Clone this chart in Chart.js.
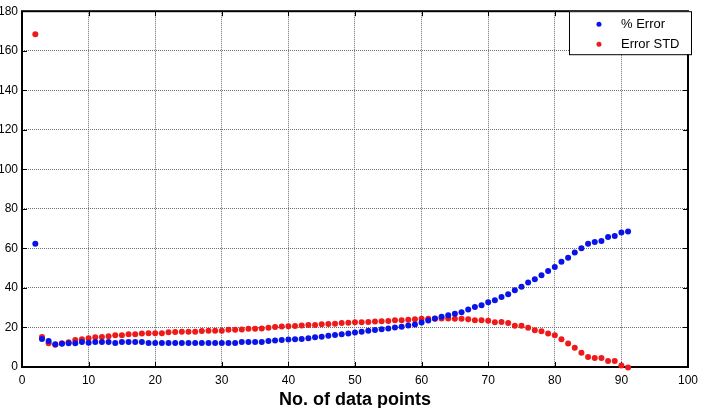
<!DOCTYPE html>
<html>
<head>
<meta charset="utf-8">
<script src="https://cdn.jsdelivr.net/npm/chart.js@4.4.0/dist/chart.umd.min.js"></script>
<style>
  html, body { margin: 0; padding: 0; background: #fff; }
</style>
</head>
<body>
<canvas id="errorChart" width="704" height="408"></canvas>
<script>
// number of data points used (x)
const dataPoints = [
     2,  3,  4,  5,  6,  7,  8,  9, 10, 11, 12, 13, 14, 15, 16, 17, 18, 19, 20, 21,
    22, 23, 24, 25, 26, 27, 28, 29, 30, 31, 32, 33, 34, 35, 36, 37, 38, 39, 40, 41,
    42, 43, 44, 45, 46, 47, 48, 49, 50, 51, 52, 53, 54, 55, 56, 57, 58, 59, 60, 61,
    62, 63, 64, 65, 66, 67, 68, 69, 70, 71, 72, 73, 74, 75, 76, 77, 78, 79, 80, 81,
    82, 83, 84, 85, 86, 87, 88, 89, 90, 91
];

const percentError = [
    62.4, 14.2, 13.2, 11.5, 11.8, 12.0, 12.0, 12.6, 12.3, 12.6, 12.6, 12.6, 12.1, 12.6, 12.6, 12.6, 12.6, 12.1, 12.1, 12.1,
    12.1, 12.1, 12.1, 12.1, 12.1, 12.1, 12.1, 12.1, 12.1, 12.1, 12.1, 12.6, 12.6, 12.6, 12.6, 13.1, 13.4, 13.6, 13.9, 14.1,
    14.2, 14.6, 15.0, 15.3, 15.8, 16.2, 16.6, 17.0, 17.4, 17.8, 18.3, 18.7, 19.1, 19.5, 20.0, 20.4, 21.0, 21.5, 22.5, 23.5,
    24.5, 25.4, 26.2, 27.0, 27.7, 29.1, 30.4, 31.2, 32.8, 33.8, 35.4, 36.8, 38.8, 40.6, 42.7, 44.4, 46.4, 48.6, 50.6, 53.2,
    55.3, 57.9, 60.1, 62.3, 63.3, 63.8, 65.8, 66.3, 68.0, 68.5
];

const errorStd = [
    168.3, 15.2, 12.0, 11.2, 12.0, 12.5, 13.6, 14.1, 14.6, 15.1, 15.2, 15.5, 16.0, 16.1, 16.6, 16.6, 17.0, 17.1, 17.1, 17.1,
    17.6, 17.7, 17.8, 17.8, 17.8, 18.2, 18.3, 18.4, 18.4, 18.8, 18.9, 19.0, 19.3, 19.4, 19.5, 19.9, 20.2, 20.5, 20.6, 20.7,
    21.0, 21.2, 21.3, 21.6, 21.8, 21.9, 22.2, 22.4, 22.6, 22.7, 22.8, 23.0, 23.2, 23.3, 23.6, 23.7, 23.9, 24.2, 24.4, 24.4,
    24.4, 24.5, 24.5, 24.4, 24.4, 24.2, 23.7, 23.6, 23.4, 22.7, 22.8, 22.3, 20.9, 20.9, 19.9, 18.6, 18.1, 17.0, 16.0, 14.0,
    11.9, 9.7, 7.2, 5.0, 4.5, 4.5, 3.0, 3.0, 0.8, -0.2
];

const seriesNames = ['% Error', 'Error STD'];
const BLUE = '#0a14e6';
const RED = '#ee1a1a';
const FONT = "'Liberation Sans', Arial, sans-serif";

const toPoints = (ys) => ys.map((y, i) => ({ x: dataPoints[i], y: y }));

// black box round the plot with little inward tick marks
const framePlugin = {
    id: 'frame',
    beforeDatasetsDraw(chart) {
        const { ctx, chartArea: a, scales } = chart;
        ctx.save();
        ctx.strokeStyle = '#000';
        ctx.lineWidth = 1;
        ctx.beginPath();
        scales.x.ticks.forEach(t => {
            const px = Math.round(scales.x.getPixelForValue(t.value)) + 0.5;
            ctx.moveTo(px, a.top); ctx.lineTo(px, a.top + 5);
            ctx.moveTo(px, a.bottom); ctx.lineTo(px, a.bottom - 5);
        });
        scales.y.ticks.forEach(t => {
            const py = Math.round(scales.y.getPixelForValue(t.value)) + 0.5;
            ctx.moveTo(a.left, py); ctx.lineTo(a.left + 5, py);
            ctx.moveTo(a.right, py); ctx.lineTo(a.right - 5, py);
        });
        ctx.stroke();
        ctx.lineWidth = 2;
        ctx.strokeRect(a.left, a.top, a.right - a.left, a.bottom - a.top);
        ctx.restore();
    }
};

// boxed legend in the top right corner
const boxLegend = {
    id: 'boxLegend',
    afterDraw(chart) {
        const { ctx, chartArea: a } = chart;
        const x = a.right - 119, y = a.top, w = 122, h = 43;
        ctx.save();
        ctx.fillStyle = '#fff';
        ctx.fillRect(x, y, w, h);
        ctx.strokeStyle = '#000';
        ctx.lineWidth = 1;
        ctx.strokeRect(x + 0.5, y + 0.5, w, h);
        ctx.font = '13px ' + FONT;
        ctx.textBaseline = 'middle';
        chart.data.datasets.forEach((ds, i) => {
            const cy = y + 13 + i * 20;
            ctx.fillStyle = ds.backgroundColor;
            ctx.beginPath();
            ctx.arc(x + 30, cy, 2.5, 0, Math.PI * 2);
            ctx.fill();
            ctx.fillStyle = '#000';
            ctx.fillText(ds.label, x + 52, cy);
        });
        ctx.restore();
    }
};

const ctx = document.getElementById('errorChart').getContext('2d');

new Chart(ctx, {
    type: 'scatter',
    data: {
        datasets: [
            {
                label: seriesNames[0],
                data: toPoints(percentError),
                backgroundColor: BLUE,
                borderColor: BLUE,
                borderWidth: 0,
                pointRadius: 3,
                clip: false,
            },
            {
                label: seriesNames[1],
                data: toPoints(errorStd),
                backgroundColor: RED,
                borderColor: RED,
                borderWidth: 0,
                pointRadius: 3,
                clip: false,
            },
        ],
    },
    options: {
        responsive: false,
        animation: false,
        layout: {
            padding: { left: 0, right: 13, top: 10, bottom: 0 }
        },
        plugins: {
            legend: { display: false },
            tooltip: { enabled: false },
        },
        scales: {
            x: {
                type: 'linear',
                min: 0,
                max: 100,
                afterFit: (scale) => { scale.height = 41; },
                ticks: {
                    stepSize: 10,
                    padding: 6,
                    color: '#000',
                    font: { family: FONT, size: 12 },
                },
                grid: {
                    color: '#6e6e6e',
                    drawTicks: false,
                },
                border: { display: false, dash: [1, 1] },
                title: {
                    display: true,
                    text: 'No. of data points',
                    color: '#000',
                    padding: 0,
                    font: { family: FONT, size: 18, weight: 'bold', lineHeight: 0.9 },
                },
            },
            y: {
                min: 0,
                max: 180,
                afterFit: (scale) => { scale.width = 22; },
                ticks: {
                    stepSize: 20,
                    padding: 4,
                    color: '#000',
                    font: { family: FONT, size: 12 },
                },
                grid: {
                    color: '#6e6e6e',
                    drawTicks: false,
                },
                border: { display: false, dash: [1, 1] },
            },
        },
    },
    plugins: [framePlugin, boxLegend],
});
</script>
</body>
</html>
